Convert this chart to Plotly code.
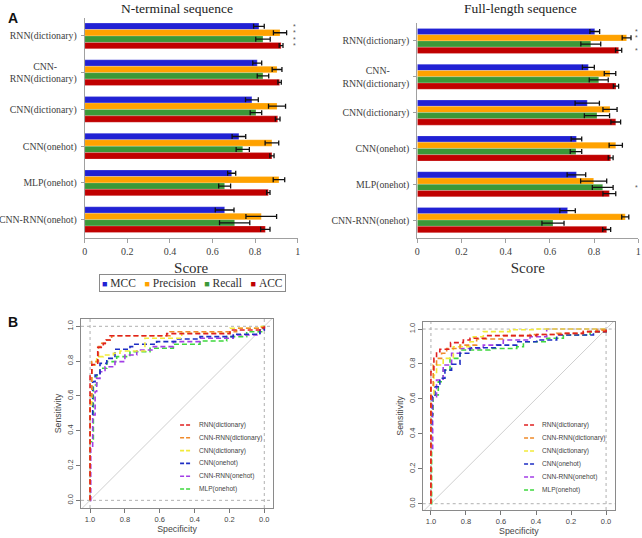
import plotly.graph_objects as go

W, H = 642, 538

# ---------------- Panel A data ----------------
categories = ["RNN(dictionary)", "CNN-RNN(dictionary)", "CNN(dictionary)",
              "CNN(onehot)", "MLP(onehot)", "CNN-RNN(onehot)"]
category_ticktext = ["RNN(dictionary)", "CNN-&nbsp;&nbsp;&nbsp;&nbsp;&nbsp;&nbsp;&nbsp;&nbsp;<br>RNN(dictionary)",
                     "CNN(dictionary)", "CNN(onehot)", "MLP(onehot)", "CNN-RNN(onehot)"]
metrics = ["MCC", "Precision", "Recall", "ACC"]
metric_colors = ["#2121d4", "#ffa200", "#3b9838", "#c00000"]

nterm_mcc = [0.818, 0.810, 0.785, 0.724, 0.690, 0.657]
nterm_mcc_err = [0.025, 0.021, 0.030, 0.032, 0.019, 0.044]
nterm_precision = [0.917, 0.903, 0.903, 0.879, 0.912, 0.829]
nterm_precision_err = [0.031, 0.023, 0.040, 0.032, 0.027, 0.072]
nterm_recall = [0.837, 0.837, 0.804, 0.742, 0.657, 0.704]
nterm_recall_err = [0.034, 0.027, 0.027, 0.031, 0.028, 0.071]
nterm_acc = [0.922, 0.915, 0.906, 0.879, 0.862, 0.848]
nterm_acc_err = [0.009, 0.008, 0.011, 0.010, 0.008, 0.022]

full_mcc = [0.803, 0.774, 0.769, 0.720, 0.720, 0.680]
full_mcc_err = [0.022, 0.027, 0.055, 0.024, 0.042, 0.035]
full_precision = [0.947, 0.872, 0.872, 0.898, 0.798, 0.941]
full_precision_err = [0.020, 0.026, 0.032, 0.030, 0.059, 0.016]
full_recall = [0.785, 0.821, 0.813, 0.718, 0.839, 0.614]
full_recall_err = [0.045, 0.043, 0.057, 0.026, 0.047, 0.050]
full_acc = [0.911, 0.899, 0.898, 0.875, 0.869, 0.857]
full_acc_err = [0.014, 0.012, 0.022, 0.011, 0.029, 0.018]

nterm_significant = [("RNN(dictionary)", "MCC"), ("RNN(dictionary)", "Precision"),
                     ("RNN(dictionary)", "Recall"), ("RNN(dictionary)", "ACC")]
full_significant = [("RNN(dictionary)", "MCC"), ("RNN(dictionary)", "Precision"),
                    ("RNN(dictionary)", "ACC"), ("MLP(onehot)", "Recall")]

score_ticks = [0, 0.2, 0.4, 0.6, 0.8, 1]

# ---------------- Panel B data (ROC: specificity, sensitivity) ----------------
roc_models = ["RNN(dictionary)", "CNN-RNN(dictionary)", "CNN(dictionary)",
              "CNN(onehot)", "CNN-RNN(onehot)", "MLP(onehot)"]
roc_colors = ["#e02020", "#f08a2a", "#f2ea3a", "#1e2ec4", "#a23ee6", "#3ed83e"]

nterm_rnn_dict_spec = [1, 1, 0.99, 0.956, 0.924, 0.908, 0.885, 0.56, 0.197, 0.025, 0]
nterm_rnn_dict_sens = [0, 0.72, 0.78, 0.879, 0.902, 0.921, 0.946, 0.958, 0.979, 0.99, 1]
nterm_cnnrnn_dict_spec = [1, 1, 0.99, 0.952, 0.933, 0.904, 0.876, 0.541, 0.159, 0.02, 0]
nterm_cnnrnn_dict_sens = [0, 0.6, 0.797, 0.883, 0.902, 0.921, 0.946, 0.969, 0.989, 0.995, 1]
nterm_cnn_dict_spec = [1, 1, 0.99, 0.971, 0.962, 0.924, 0.866, 0.828, 0.685, 0.474, 0.197, 0.025, 0]
nterm_cnn_dict_sens = [0, 0.55, 0.778, 0.797, 0.826, 0.835, 0.845, 0.858, 0.931, 0.96, 0.989, 0.998, 1]
nterm_cnn_onehot_spec = [1, 1, 0.985, 0.971, 0.943, 0.904, 0.857, 0.771, 0.751, 0.618, 0.503, 0.369, 0.178, 0.025, 0]
nterm_cnn_onehot_sens = [0, 0.49, 0.682, 0.72, 0.787, 0.816, 0.868, 0.883, 0.897, 0.912, 0.927, 0.941, 0.954, 0.979, 1]
nterm_cnnrnn_onehot_spec = [1, 0.996, 0.985, 0.971, 0.962, 0.943, 0.914, 0.857, 0.8, 0.732, 0.637, 0.522, 0.369, 0.178, 0.025, 0]
nterm_cnnrnn_onehot_sens = [0, 0.3, 0.49, 0.625, 0.701, 0.739, 0.768, 0.797, 0.835, 0.864, 0.883, 0.912, 0.931, 0.95, 0.979, 1]
nterm_mlp_onehot_spec = [1, 1, 0.981, 0.962, 0.943, 0.904, 0.847, 0.771, 0.656, 0.522, 0.369, 0.216, 0.101, 0.006, 0]
nterm_mlp_onehot_sens = [0, 0.337, 0.663, 0.72, 0.759, 0.797, 0.826, 0.854, 0.874, 0.897, 0.916, 0.941, 0.969, 0.998, 1]

full_rnn_dict_spec = [1, 1, 0.983, 0.968, 0.949, 0.888, 0.815, 0.777, 0.682, 0.396, 0.244, 0.13, 0]
full_rnn_dict_sens = [0, 0.756, 0.832, 0.87, 0.884, 0.922, 0.937, 0.947, 0.962, 0.969, 0.975, 0.985, 1]
full_cnnrnn_dict_spec = [1, 1, 0.987, 0.968, 0.939, 0.91, 0.834, 0.739, 0.587, 0.434, 0.282, 0.13, 0.053, 0]
full_cnnrnn_dict_sens = [0, 0.679, 0.794, 0.832, 0.861, 0.889, 0.908, 0.943, 0.962, 0.969, 0.975, 0.985, 0.994, 1]
full_cnn_dict_spec = [1, 1, 0.983, 0.968, 0.93, 0.872, 0.777, 0.758, 0.701, 0.549, 0.4, 0]
full_cnn_dict_sens = [0, 0.622, 0.737, 0.794, 0.832, 0.899, 0.927, 0.956, 0.985, 0.996, 1, 1]
full_cnn_onehot_spec = [1, 1, 0.996, 0.977, 0.949, 0.92, 0.882, 0.834, 0.777, 0.625, 0.51, 0.396, 0.282, 0.072, 0]
full_cnn_onehot_sens = [0, 0.431, 0.613, 0.67, 0.718, 0.765, 0.798, 0.861, 0.893, 0.908, 0.927, 0.937, 0.966, 0.985, 1]
full_cnnrnn_onehot_spec = [1, 1, 0.99, 0.968, 0.93, 0.882, 0.834, 0.701, 0.587, 0.434, 0.339, 0]
full_cnnrnn_onehot_sens = [0, 0.317, 0.613, 0.708, 0.794, 0.861, 0.889, 0.908, 0.937, 0.956, 1, 1]
full_mlp_onehot_spec = [1, 0.996, 0.987, 0.958, 0.93, 0.891, 0.834, 0.663, 0.51, 0.472, 0.339, 0.244, 0.091, 0]
full_mlp_onehot_sens = [0, 0.508, 0.622, 0.698, 0.765, 0.832, 0.88, 0.889, 0.899, 0.927, 0.947, 0.966, 0.985, 1]

roc_ticks = [1.0, 0.8, 0.6, 0.4, 0.2, 0.0]

# ---------------- Build figure ----------------
fig = go.Figure()

SERIF = "Liberation Serif"
SANS = "Liberation Sans"

nterm_vals = [nterm_mcc, nterm_precision, nterm_recall, nterm_acc]
nterm_errs = [nterm_mcc_err, nterm_precision_err, nterm_recall_err, nterm_acc_err]
full_vals = [full_mcc, full_precision, full_recall, full_acc]
full_errs = [full_mcc_err, full_precision_err, full_recall_err, full_acc_err]

for (vals, errs, xa, ya) in [(nterm_vals, nterm_errs, "x", "y"), (full_vals, full_errs, "x2", "y2")]:
    for m, c, v, e in zip(metrics, metric_colors, vals, errs):
        fig.add_trace(go.Bar(
            y=categories, x=v, name=m, orientation="h",
            marker=dict(color=c, line=dict(width=0.6, color="rgba(255,255,255,0.35)")),
            error_x=dict(type="data", array=e, color="#111", thickness=1.3, width=2.5),
            xaxis=xa, yaxis=ya, showlegend=False, hoverinfo="x+name",
        ))

BARGAP = 0.3

def bar_offset(metric):
    w = 1 - BARGAP
    i = metrics.index(metric)
    return -w / 2 + (i + 0.5) * w / len(metrics)

annotations = []
for sig, xr, yr, xpos in [(nterm_significant, "x", "y", 0.985), (full_significant, "x2", "y2", 0.99)]:
    for cat, met in sig:
        annotations.append(dict(
            x=xpos, y=categories.index(cat) + bar_offset(met), xref=xr, yref=yr,
            text="*", showarrow=False, font=dict(family=SANS, size=7, color="#555"),
            xanchor="center", yanchor="middle",
        ))

# ROC traces
nterm_roc = [(nterm_rnn_dict_spec, nterm_rnn_dict_sens), (nterm_cnnrnn_dict_spec, nterm_cnnrnn_dict_sens),
             (nterm_cnn_dict_spec, nterm_cnn_dict_sens), (nterm_cnn_onehot_spec, nterm_cnn_onehot_sens),
             (nterm_cnnrnn_onehot_spec, nterm_cnnrnn_onehot_sens), (nterm_mlp_onehot_spec, nterm_mlp_onehot_sens)]
full_roc = [(full_rnn_dict_spec, full_rnn_dict_sens), (full_cnnrnn_dict_spec, full_cnnrnn_dict_sens),
            (full_cnn_dict_spec, full_cnn_dict_sens), (full_cnn_onehot_spec, full_cnn_onehot_sens),
            (full_cnnrnn_onehot_spec, full_cnnrnn_onehot_sens), (full_mlp_onehot_spec, full_mlp_onehot_sens)]

DASH = "5px,3px"
for curves, xa, ya in [(nterm_roc, "x3", "y3"), (full_roc, "x4", "y4")]:
    # chance diagonal
    fig.add_trace(go.Scatter(x=[1.2, -0.2], y=[-0.2, 1.2], mode="lines",
                             line=dict(color="#cfcfcf", width=1), xaxis=xa, yaxis=ya,
                             showlegend=False, hoverinfo="skip"))
    for idx in reversed(range(len(roc_models))):
        spec, sens = curves[idx]
        fig.add_trace(go.Scatter(x=spec, y=sens, mode="lines", name=roc_models[idx],
                                 line=dict(color=roc_colors[idx], width=1.6, dash=DASH, shape="hv"),
                                 xaxis=xa, yaxis=ya, showlegend=False))

# ---------------- Layout ----------------
def px_x(p):
    return p / W

def px_y(p):
    return 1 - p / H

bar_xaxis = dict(range=[0, 1], tickvals=score_ticks, ticktext=[f"{t:g}" for t in score_ticks],
                 ticks="outside", ticklen=4, tickcolor="#a0a0a0", showline=True, linecolor="#a0a0a0",
                 linewidth=1, showgrid=False, zeroline=False, automargin=False,
                 tickfont=dict(family=SERIF, size=10, color="#404040"),
                 title=dict(text="Score", font=dict(family=SERIF, size=15, color="#303030"), standoff=6))
bar_yaxis = dict(type="category", categoryorder="array", categoryarray=categories,
                 tickmode="array", tickvals=categories, ticktext=category_ticktext,
                 autorange="reversed", ticks="outside", ticklen=3, tickcolor="#a0a0a0",
                 showline=True, linecolor="#a0a0a0", linewidth=1, showgrid=False, automargin=False,
                 tickfont=dict(family=SERIF, size=9.8, color="#404040"), ticklabelstandoff=2)

roc_xaxis = dict(tickvals=roc_ticks, ticktext=[f"{t:.1f}" for t in roc_ticks],
                 ticks="outside", ticklen=4, tickcolor="#777", showline=True, mirror=True,
                 linecolor="#8a8a8a", linewidth=1, showgrid=False, zeroline=False, automargin=False,
                 tickfont=dict(family=SANS, size=7.5, color="#444"),
                 title=dict(text="Specificity", font=dict(family=SANS, size=8.8, color="#444"), standoff=2))
roc_yaxis = dict(tickvals=roc_ticks, ticktext=[f"{t:.1f}" for t in roc_ticks], tickangle=-90,
                 ticks="outside", ticklen=4, tickcolor="#777", showline=True, mirror=True,
                 linecolor="#8a8a8a", linewidth=1, showgrid=False, zeroline=False, automargin=False,
                 tickfont=dict(family=SANS, size=7.5, color="#444"),
                 title=dict(text="Sensitivity", font=dict(family=SANS, size=8.8, color="#444"), standoff=2))

layout = dict(
    width=W, height=H, margin=dict(l=0, r=0, t=0, b=0, autoexpand=False),
    paper_bgcolor="white", plot_bgcolor="white",
    barmode="group", bargap=BARGAP, bargroupgap=0, showlegend=False,
    xaxis=dict(bar_xaxis, domain=[px_x(84.7), px_x(297.7)], anchor="y"),
    yaxis=dict(bar_yaxis, domain=[px_y(238), px_y(17.6)], anchor="x"),
    xaxis2=dict(bar_xaxis, domain=[px_x(417.3), px_x(638.3)], anchor="y2"),
    yaxis2=dict(bar_yaxis, domain=[px_y(238), px_y(23)], anchor="x2"),
    xaxis3=dict(roc_xaxis, domain=[px_x(81), px_x(273)], range=[1.052, -0.05], anchor="y3"),
    yaxis3=dict(roc_yaxis, domain=[px_y(508), px_y(319)], range=[-0.044, 1.042], anchor="x3"),
    xaxis4=dict(roc_xaxis, domain=[px_x(422.7), px_x(615)], range=[1.047, -0.051], anchor="y4"),
    yaxis4=dict(roc_yaxis, domain=[px_y(510), px_y(321.7)], range=[-0.036, 1.042], anchor="x4"),
)

shapes = []
for xa, ya in [("x3", "y3"), ("x4", "y4")]:
    for v in [0, 1]:
        shapes.append(dict(type="line", xref=f"{xa} domain", yref=ya, x0=0, x1=1, y0=v, y1=v,
                           line=dict(color="#b0b0b0", width=1, dash="dot"), layer="below"))
        shapes.append(dict(type="line", xref=xa, yref=f"{ya} domain", x0=v, x1=v, y0=0, y1=1,
                           line=dict(color="#b0b0b0", width=1, dash="dot"), layer="below"))

# ROC legends (R-style: short dashed segment + label)
for xa, ya, lx0, lx1, tx, y0, dy in [("x3", "y3", 0.516, 0.578, 0.604, 0.439, 0.0677),
                                    ("x4", "y4", 0.527, 0.584, 0.61, 0.4514, 0.069)]:
    for i, (name, col) in enumerate(zip(roc_models, roc_colors)):
        yy = y0 - i * dy
        shapes.append(dict(type="line", xref=f"{xa} domain", yref=f"{ya} domain",
                           x0=lx0, x1=lx1, y0=yy, y1=yy,
                           line=dict(color=col, width=1.6, dash="4px,2px")))
        annotations.append(dict(x=tx, y=yy, xref=f"{xa} domain", yref=f"{ya} domain",
                                text=name, showarrow=False, xanchor="left", yanchor="middle",
                                font=dict(family=SANS, size=6.6, color="#444")))

# Bar legend (boxed, horizontal)
legend_text = "&nbsp;&nbsp;&nbsp;".join(
    f"<span style='color:{c};font-size:9px'>■</span>&nbsp;{m}" for m, c in zip(metrics, metric_colors))
annotations.append(dict(x=px_x(192.5), y=px_y(283), xref="paper", yref="paper", text=legend_text,
                        showarrow=False, xanchor="center", yanchor="middle",
                        font=dict(family=SERIF, size=11.5, color="#303030"),
                        bordercolor="#8a8a8a", borderwidth=1, borderpad=2, bgcolor="white"))

# Titles and panel letters
annotations += [
    dict(x=px_x(177), y=px_y(8), xref="paper", yref="paper", text="N-terminal sequence",
         showarrow=False, xanchor="center", yanchor="middle",
         font=dict(family=SERIF, size=13.5, color="#222")),
    dict(x=px_x(520), y=px_y(8), xref="paper", yref="paper", text="Full-length sequence",
         showarrow=False, xanchor="center", yanchor="middle",
         font=dict(family=SERIF, size=13.5, color="#222")),
    dict(x=px_x(13), y=px_y(18), xref="paper", yref="paper", text="<b>A</b>",
         showarrow=False, xanchor="center", yanchor="middle",
         font=dict(family=SANS, size=14, color="#111")),
    dict(x=px_x(13), y=px_y(322), xref="paper", yref="paper", text="<b>B</b>",
         showarrow=False, xanchor="center", yanchor="middle",
         font=dict(family=SANS, size=14, color="#111")),
]

fig.update_layout(**layout, shapes=shapes, annotations=annotations)
fig.write_html("out.html", config={"displayModeBar": False},
               post_script="document.body.style.margin='0';document.body.style.overflow='hidden';")
